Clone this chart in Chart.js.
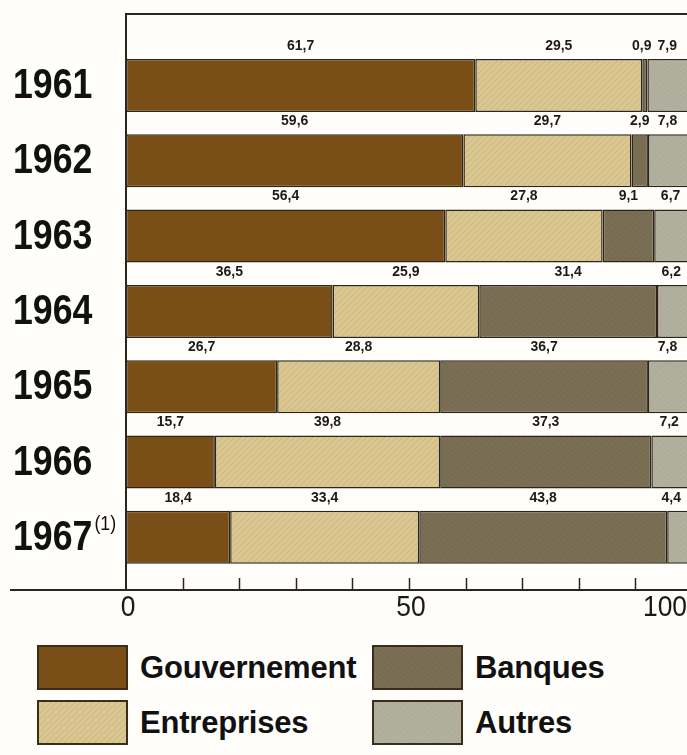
<!DOCTYPE html>
<html lang="fr">
<head>
<meta charset="utf-8">
<title>Financement 1961-1967</title>
<script src="https://cdn.jsdelivr.net/npm/chart.js@4.4.1/dist/chart.umd.min.js"></script>
<style>
  html, body { margin: 0; padding: 0; background: #fffefa; }
  #wrap { position: relative; width: 687px; height: 755px; overflow: hidden; background: #fffefa; }
  #chart { position: absolute; left: 0; top: 0; }
  #legend {
    position: absolute; left: 37px; top: 645px;
    display: grid; grid-auto-flow: column;
    grid-template-rows: 45px 45px; grid-template-columns: 335px auto;
    row-gap: 10px;
  }
  .item { display: flex; align-items: center; height: 45px; }
  .swatch { box-sizing: border-box; width: 91px; height: 45px; border: 2px solid #3a2e1a; margin-right: 12px; }
  .item span { font: bold 31px "Liberation Sans", Arial, sans-serif; color: #111; letter-spacing: -0.2px; }
</style>
</head>
<body>
<div id="wrap">
  <canvas id="chart" width="687" height="630"></canvas>
  <div id="legend"></div>
</div>
<script>
// Years (rows) and the share of each source, in %
const years = ['1961', '1962', '1963', '1964', '1965', '1966', '1967'];
const yearNote = '(1)';          // footnote mark attached to the last year
const gouvernement = [61.7, 59.6, 56.4, 36.5, 26.7, 15.7, 18.4];
const entreprises  = [29.5, 29.7, 27.8, 25.9, 28.8, 39.8, 33.4];
const banques      = [0.9, 2.9, 9.1, 31.4, 36.7, 37.3, 43.8];
const autres       = [7.9, 7.8, 6.7, 6.2, 7.8, 7.2, 4.4];
const seriesNames  = ['Gouvernement', 'Entreprises', 'Banques', 'Autres'];
const axisLabelValues = [0, 50, 100];

const seriesValues = [gouvernement, entreprises, banques, autres];

const FONT = '"Liberation Sans", Arial, sans-serif';
const INK = '#2b2620';

// Small textured fills for the segments
function makeTile(base, line, kind) {
  const s = 6;
  const c = document.createElement('canvas');
  c.width = s; c.height = s;
  const g = c.getContext('2d');
  g.fillStyle = base;
  g.fillRect(0, 0, s, s);
  if (kind === 'hatch') {
    g.strokeStyle = line;
    g.lineWidth = 1;
    g.beginPath();
    g.moveTo(0, s); g.lineTo(s, 0);
    g.moveTo(-1, 1); g.lineTo(1, -1);
    g.moveTo(s - 1, s + 1); g.lineTo(s + 1, s - 1);
    g.stroke();
  } else if (kind === 'grain') {
    g.fillStyle = line;
    [[0, 0], [3, 1], [1, 3], [4, 4], [5, 2], [2, 5]].forEach(([x, y]) => g.fillRect(x, y, 1, 1));
  }
  return c;
}

const tiles = [
  makeTile('#7a4f17', '#7a4f17', 'plain'),
  makeTile('#d9c691', '#cbb57e', 'hatch'),
  makeTile('#7b6f56', '#6e624b', 'grain'),
  makeTile('#b2b09f', '#a6a493', 'grain')
];

const canvas = document.getElementById('chart');
const ctx2d = canvas.getContext('2d');
const fills = tiles.map(t => ctx2d.createPattern(t, 'repeat'));

const fmt = v => String(v).replace('.', ',');

// Draws text squeezed horizontally (condensed lettering)
function condensedText(ctx, text, x, y, squeeze, align) {
  ctx.save();
  ctx.translate(x, y);
  ctx.scale(squeeze, 1);
  ctx.textAlign = align;
  ctx.fillText(text, 0, 0);
  ctx.restore();
}

// Value labels written in the white strip above every bar
const segmentLabels = {
  id: 'segmentLabels',
  afterDatasetsDraw(chart) {
    const { ctx, chartArea } = chart;
    ctx.save();
    ctx.font = 'bold 14px ' + FONT;
    ctx.fillStyle = '#1d1a15';
    ctx.textAlign = 'center';
    ctx.textBaseline = 'middle';
    years.forEach((_, i) => {
      const items = seriesValues.map((vals, d) => {
        const el = chart.getDatasetMeta(d).data[i];
        const left = Math.max(Math.min(el.x, el.base), chartArea.left);
        const right = Math.min(Math.max(el.x, el.base), chartArea.right);
        const text = fmt(vals[i]);
        return { text, cx: (left + right) / 2, w: ctx.measureText(text).width, y: el.y - el.height / 2 - 13 };
      });
      const gap = 6;
      const last = items[items.length - 1];
      last.cx = Math.min(last.cx, chartArea.right - 6 - last.w / 2);
      for (let k = items.length - 2; k >= 0; k--) {
        const next = items[k + 1];
        const limit = next.cx - next.w / 2 - gap - items[k].w / 2;
        items[k].cx = Math.min(items[k].cx, limit);
      }
      items.forEach(it => ctx.fillText(it.text, it.cx, it.y));
    });
    ctx.restore();
  }
};

// Frame line on top, extended baseline, inward tick marks, axis numbers and year labels
const frame = {
  id: 'frame',
  afterDraw(chart) {
    const { ctx, chartArea } = chart;
    const xs = chart.scales.x;
    const ys = chart.scales.y;
    ctx.save();
    ctx.strokeStyle = INK;
    ctx.lineWidth = 2;
    ctx.beginPath();
    ctx.moveTo(chartArea.left - 1, chartArea.top);
    ctx.lineTo(chartArea.right, chartArea.top);
    ctx.moveTo(10, chartArea.bottom);
    ctx.lineTo(chartArea.left, chartArea.bottom);
    ctx.stroke();

    ctx.lineWidth = 1.5;
    ctx.beginPath();
    xs.ticks.forEach(t => {
      if (t.value <= 0) return;
      const px = Math.round(xs.getPixelForValue(t.value)) + 0.5;
      if (px > chartArea.right) return;
      ctx.moveTo(px, chartArea.bottom - 12);
      ctx.lineTo(px, chartArea.bottom);
    });
    ctx.stroke();

    // numbers under the baseline
    ctx.font = '30px ' + FONT;
    ctx.fillStyle = '#1a1a1a';
    ctx.textBaseline = 'middle';
    const squeezeX = 0.88;
    axisLabelValues.forEach(v => {
      const text = String(v);
      const w = ctx.measureText(text).width * squeezeX;
      let px = xs.getPixelForValue(v) + 2;
      if (px + w / 2 > chartArea.right) px = chartArea.right - w / 2;
      condensedText(ctx, text, px, chartArea.bottom + 18, squeezeX, 'center');
    });

    // year labels, left aligned, with the footnote mark on the last one
    const squeezeY = 0.85;
    ctx.font = 'bold 42px ' + FONT;
    ctx.fillStyle = '#111';
    ctx.textBaseline = 'middle';
    years.forEach((yr, i) => {
      condensedText(ctx, yr, ys.left, ys.getPixelForValue(i) + 1, squeezeY, 'left');
    });
    const lastW = ctx.measureText(years[years.length - 1]).width * squeezeY;
    ctx.font = '21px ' + FONT;
    condensedText(ctx, yearNote, ys.left + lastW + 2, ys.getPixelForValue(years.length - 1) - 13, 0.85, 'left');
    ctx.restore();
  }
};

const chart = new Chart(canvas, {
  type: 'bar',
  data: {
    datasets: seriesValues.map((vals, d) => ({
      label: seriesNames[d],
      data: vals.map((v, i) => ({ x: v, y: i })),
      backgroundColor: fills[d],
      borderColor: '#2e2516',
      borderWidth: 1.5,
      borderSkipped: false,
      barPercentage: 0.704,
      categoryPercentage: 1
    }))
  },
  options: {
    indexAxis: 'y',
    responsive: false,
    animation: false,
    layout: { padding: { left: 13, top: 14, right: 0, bottom: 40 } },
    plugins: { legend: { display: false }, tooltip: { enabled: false } },
    scales: {
      x: {
        type: 'linear', min: 0, max: 99.1, stacked: true,
        grid: { display: false, drawTicks: false },
        border: { display: true, color: INK, width: 2 },
        ticks: { display: false, stepSize: 10, includeBounds: false }
      },
      y: {
        type: 'linear', reverse: true, offset: false, min: -0.95, max: 6.7, stacked: true,
        afterBuildTicks: s => { s.ticks = years.map((_, i) => ({ value: i })); },
        afterFit: s => { s.width = 113; s.paddingTop = 0; s.paddingBottom = 0; },
        grid: { display: false, drawTicks: false },
        border: { display: true, color: INK, width: 2 },
        ticks: { display: false }
      }
    }
  },
  plugins: [segmentLabels, frame]
});

// Legend in two columns, built from the datasets
const legend = document.getElementById('legend');
chart.data.datasets.forEach((ds, d) => {
  const item = document.createElement('div');
  item.className = 'item';
  const sw = document.createElement('div');
  sw.className = 'swatch';
  sw.style.backgroundImage = 'url(' + tiles[d].toDataURL() + ')';
  const label = document.createElement('span');
  label.textContent = ds.label;
  item.appendChild(sw);
  item.appendChild(label);
  legend.appendChild(item);
});
</script>
</body>
</html>
